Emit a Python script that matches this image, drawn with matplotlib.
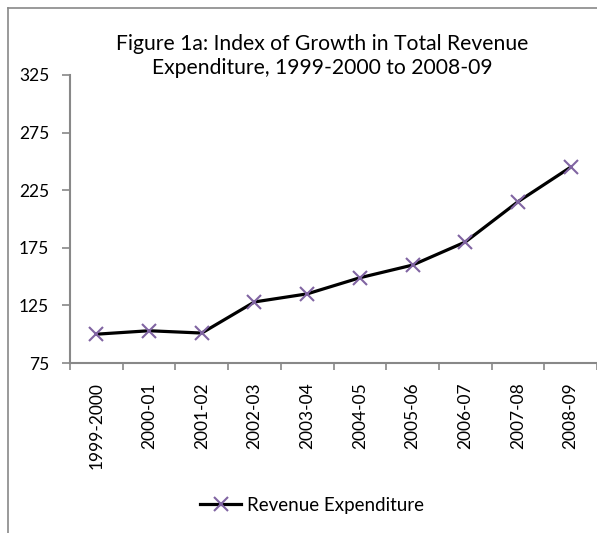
import matplotlib
matplotlib.use("Agg")
import matplotlib.pyplot as plt
from matplotlib.lines import Line2D

categories = ["1999-2000", "2000-01", "2001-02", "2002-03", "2003-04",
              "2004-05", "2005-06", "2006-07", "2007-08", "2008-09"]
values = [100, 103, 101, 128, 135, 149, 160, 180, 215, 245]
yticks = [75, 125, 175, 225, 275, 325]
title = "Figure 1a: Index of Growth in Total Revenue\nExpenditure, 1999-2000 to 2008-09"
series_name = "Revenue Expenditure"

plt.rcParams['font.family'] = ['Lato', 'DejaVu Sans']

W, H = 597, 533
fig = plt.figure(figsize=(W / 100, H / 100), dpi=100)
ax = fig.add_axes([70 / W, (H - 363) / H, (W - 70) / W, (363 - 75) / H])

x = list(range(len(categories)))
ax.plot(x, values, color='black', lw=2.3, marker='x', markersize=10,
        markeredgecolor='#8064A2', markeredgewidth=1.5, label=series_name,
        solid_joinstyle='round', zorder=3)

ax.set_xlim(-0.5, len(categories) - 0.5)
ax.set_ylim(yticks[0], yticks[-1])
ax.set_yticks(yticks)
ax.set_xticks([i - 0.5 for i in range(len(categories) + 1)], minor=False)
ax.set_xticklabels([])
ax.set_xticks(x, minor=True)
ax.set_xticklabels(categories, minor=True, rotation=90, fontsize=12.5)
ax.tick_params(axis='x', which='minor', length=0, pad=14)
ax.tick_params(axis='x', which='major', length=5, width=1.2, color='#888888')
ax.tick_params(axis='y', length=6, width=1.2, color='#888888', labelsize=12.5, pad=9)

for s in ['top', 'right']:
    ax.spines[s].set_visible(False)
for s in ['left', 'bottom']:
    ax.spines[s].set_color('#888888')
    ax.spines[s].set_linewidth(1.5)

fig.text(322 / W, 1 - 56 / H, title, ha='center', va='center', fontsize=15.2,
         linespacing=1.3)

leg = fig.legend(loc='center', bbox_to_anchor=(312 / W, 1 - 505 / H), frameon=False,
                 fontsize=13.5, handlelength=2.2, handletextpad=0.3)

# outer chart frame (left and top edges visible)
fig.add_artist(Line2D([8 / W, 8 / W], [0, 1 - 8 / H], transform=fig.transFigure,
                      color='#898989', lw=1.2))
fig.add_artist(Line2D([8 / W, 1], [1 - 8 / H, 1 - 8 / H], transform=fig.transFigure,
                      color='#898989', lw=1.2))

fig.savefig("out.png", dpi=100)
